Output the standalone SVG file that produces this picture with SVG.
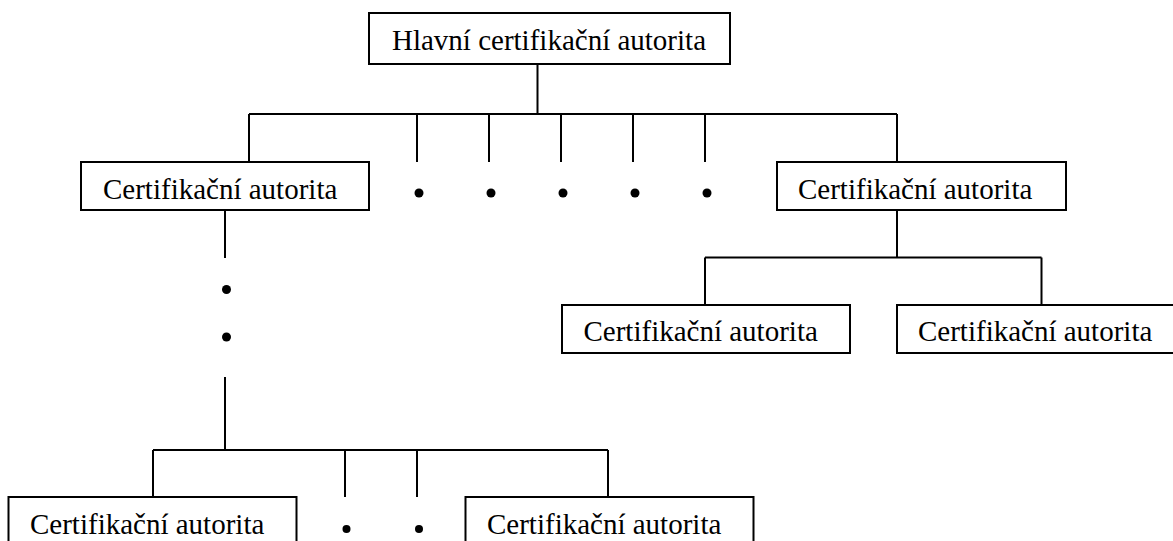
<svg xmlns="http://www.w3.org/2000/svg" width="1173" height="541" viewBox="0 0 1173 541">
<style>
.box{fill:#fff;stroke:#000;stroke-width:2}
.lbl{font-family:"Liberation Serif","Times New Roman",serif;font-size:29px;fill:#000}
.ln{stroke:#000;stroke-width:2;fill:none}
.dot{fill:#000}
</style>
<rect width="1173" height="541" fill="#fff"/>
<g id="connectors">
<path class="ln" d="M537.5 64V114M249 114H897M249 114V162M417 114V162M489 114V162M561 114V162M633 114V162M705 114V162M897 114V162"/>
<path class="ln" d="M225 210V258M225 377V450M153 450H608M153 450V497M345 450V497M417 450V497M608 450V497"/>
<path class="ln" d="M897 210V257.5M705 257.5H1041.5M705 257.5V305M1041.5 257.5V305"/>
<circle class="dot" cx="419" cy="193" r="4.5"/>
<circle class="dot" cx="491" cy="193" r="4.5"/>
<circle class="dot" cx="563" cy="193" r="4.5"/>
<circle class="dot" cx="635" cy="193" r="4.5"/>
<circle class="dot" cx="707" cy="193" r="4.5"/>
<circle class="dot" cx="226.5" cy="289.5" r="4.5"/>
<circle class="dot" cx="226.5" cy="337" r="4.5"/>
<circle class="dot" cx="346.5" cy="529" r="4"/>
<circle class="dot" cx="419" cy="529" r="4"/>
</g>
<g id="root">
<rect class="box" x="369" y="13" width="361" height="51"/>
<text class="lbl" x="549" y="50" text-anchor="middle">Hlavní certifikační autorita</text>
</g>
<g id="ca-left">
<rect class="box" x="81" y="162" width="288" height="48"/>
<text class="lbl" x="103" y="199">Certifikační autorita</text>
</g>
<g id="ca-right">
<rect class="box" x="777" y="162" width="289" height="48"/>
<text class="lbl" x="798" y="199">Certifikační autorita</text>
</g>
<g id="ca-right-sub1">
<rect class="box" x="562" y="305" width="288" height="48"/>
<text class="lbl" x="583.5" y="341">Certifikační autorita</text>
</g>
<g id="ca-right-sub2">
<rect class="box" x="897" y="305" width="300" height="48"/>
<text class="lbl" x="918" y="341">Certifikační autorita</text>
</g>
<g id="ca-bottom-left">
<rect class="box" x="8.5" y="497" width="288" height="60"/>
<text class="lbl" x="30" y="534">Certifikační autorita</text>
</g>
<g id="ca-bottom-right">
<rect class="box" x="465.5" y="497" width="288" height="60"/>
<text class="lbl" x="487" y="534">Certifikační autorita</text>
</g>
</svg>
